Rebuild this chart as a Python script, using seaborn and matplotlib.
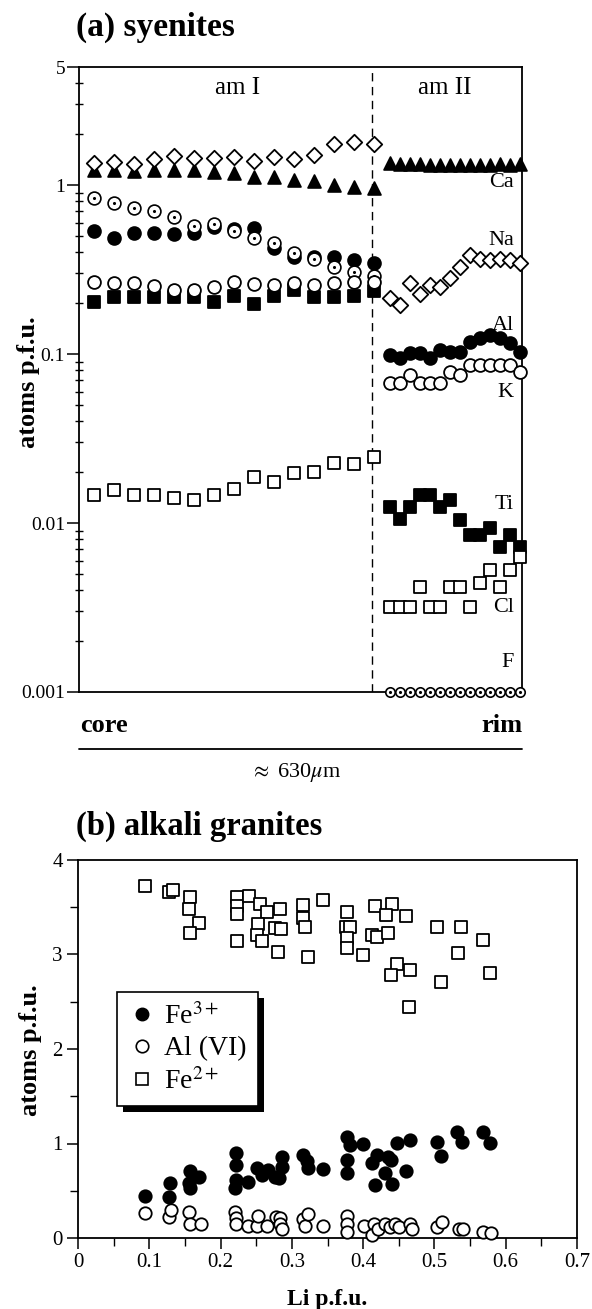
import numpy as np
import pandas as pd
import matplotlib
matplotlib.use("Agg")
import matplotlib.pyplot as plt
import seaborn as sns
from matplotlib.lines import Line2D
from matplotlib.patches import Rectangle
from matplotlib.transforms import IdentityTransform
from matplotlib.ticker import FixedLocator, NullFormatter

# ---------------- data: panel (a) syenites ----------------
pos_am1 = [1, 2, 3, 4, 5, 6, 7, 8, 9, 10, 11, 12, 13, 14, 15]
pos_am2 = [15.8, 16.3, 16.8, 17.3, 17.8, 18.3, 18.8, 19.3, 19.8, 20.3, 20.8, 21.3, 21.8, 22.3]

ca_am1 = [1.23, 1.23, 1.22, 1.23, 1.23, 1.23, 1.20, 1.18, 1.12, 1.12, 1.07, 1.06, 1.00, 0.98, 0.96]
na_am1 = [1.36, 1.37, 1.33, 1.42, 1.49, 1.44, 1.44, 1.47, 1.39, 1.47, 1.42, 1.51, 1.74, 1.79, 1.74]
al_am1 = [0.537, 0.484, 0.518, 0.518, 0.511, 0.518, 0.567, 0.547, 0.554, 0.422, 0.377, 0.373, 0.377, 0.360, 0.344]
k_am1 = [0.268, 0.262, 0.264, 0.252, 0.241, 0.241, 0.248, 0.266, 0.259, 0.256, 0.262, 0.256, 0.264, 0.268, 0.268]
ti_am1 = [0.204, 0.218, 0.218, 0.218, 0.218, 0.218, 0.204, 0.220, 0.197, 0.221, 0.239, 0.218, 0.218, 0.221, 0.236]
cl_am1 = [0.0147, 0.0157, 0.0147, 0.0147, 0.0140, 0.0137, 0.0147, 0.0160, 0.0188, 0.0176, 0.0199, 0.0201, 0.0226, 0.0223, 0.0247]
f_am1 = [0.834, 0.786, 0.734, 0.702, 0.644, 0.572, 0.585, 0.534, 0.484, 0.456, 0.394, 0.363, 0.329, 0.307, 0.290]

ca_am2 = [1.36, 1.34, 1.33, 1.34, 1.32, 1.31, 1.32, 1.31, 1.31, 1.32, 1.32, 1.33, 1.32, 1.34]
na_am2 = [0.214, 0.195, 0.262, 0.226, 0.256, 0.248, 0.281, 0.326, 0.385, 0.363, 0.360, 0.363, 0.360, 0.344]
al_am2 = [0.0986, 0.0943, 0.101, 0.101, 0.0943, 0.1056, 0.1032, 0.1032, 0.118, 0.124, 0.1295, 0.124, 0.1156, 0.1032]
k_am2 = [0.0671, 0.0671, 0.0751, 0.0671, 0.0671, 0.0671, 0.0786, 0.0751, 0.0861, 0.0861, 0.0861, 0.0861, 0.0861, 0.0786]
ti_am2 = [0.0125, 0.0105, 0.0125, 0.0147, 0.0147, 0.0125, 0.0136, 0.0104, 0.0085, 0.0085, 0.0093, 0.0072, 0.0085, 0.0072]
cl_am2 = [0.0032, 0.0032, 0.0032, 0.0042, 0.0032, 0.0032, 0.0042, 0.0042, 0.0032, 0.0044, 0.0053, 0.0042, 0.0053, 0.0063]
f_am2 = [0.001] * 14

element_labels = ["Ca", "Na", "Al", "K", "Ti", "Cl", "F"]
label_y = [1.03, 0.47, 0.148, 0.059, 0.0128, 0.00317, 0.0015]
zone_labels = ["am I", "am II"]
ytick_a = [0.001, 0.01, 0.1, 1, 5]
ytick_a_labels = ["0.001", "0.01", "0.1", "1", "5"]

# ---------------- data: panel (b) alkali granites ----------------
li_fe3 = [0.094, 0.129, 0.127, 0.157, 0.170, 0.156, 0.157, 0.222, 0.222, 0.222, 0.220, 0.239,
          0.251, 0.258, 0.267, 0.276, 0.286, 0.286, 0.282, 0.316, 0.321, 0.323, 0.343, 0.377,
          0.382, 0.400, 0.377, 0.378, 0.419, 0.412, 0.435, 0.439, 0.431, 0.417, 0.441, 0.448,
          0.466, 0.460, 0.504, 0.509, 0.532, 0.538, 0.568, 0.578]
fe3 = [0.444, 0.579, 0.431, 0.712, 0.649, 0.579, 0.526, 0.903, 0.772, 0.614, 0.526, 0.596,
       0.738, 0.667, 0.720, 0.649, 0.854, 0.754, 0.632, 0.878, 0.818, 0.738, 0.727, 1.072,
       0.984, 0.995, 0.825, 0.685, 0.878, 0.797, 0.860, 0.825, 0.685, 0.561, 0.571, 1.002,
       1.037, 0.712, 1.013, 0.868, 1.125, 1.019, 1.125, 1.002]

li_al = [0.094, 0.128, 0.130, 0.156, 0.157, 0.172, 0.220, 0.222, 0.222, 0.238, 0.251, 0.253,
         0.265, 0.278, 0.283, 0.283, 0.286, 0.315, 0.319, 0.323, 0.344, 0.378, 0.378, 0.377,
         0.401, 0.415, 0.413, 0.421, 0.431, 0.437, 0.444, 0.450, 0.466, 0.468, 0.504, 0.510,
         0.534, 0.540, 0.568, 0.579]
al_vi = [0.264, 0.224, 0.292, 0.272, 0.152, 0.152, 0.272, 0.212, 0.152, 0.132, 0.132, 0.232,
         0.132, 0.224, 0.212, 0.152, 0.092, 0.200, 0.132, 0.252, 0.132, 0.232, 0.152, 0.060,
         0.132, 0.152, 0.032, 0.092, 0.152, 0.112, 0.152, 0.112, 0.152, 0.092, 0.120, 0.172,
         0.092, 0.092, 0.060, 0.052]

li_fe2 = [0.094, 0.128, 0.133, 0.157, 0.156, 0.170, 0.157, 0.223, 0.223, 0.223, 0.223, 0.240,
          0.255, 0.265, 0.252, 0.251, 0.258, 0.281, 0.284, 0.277, 0.285, 0.315, 0.315, 0.318,
          0.322, 0.343, 0.378, 0.376, 0.381, 0.378, 0.378, 0.400, 0.417, 0.441, 0.432, 0.460,
          0.412, 0.420, 0.435, 0.447, 0.439, 0.466, 0.465, 0.504, 0.537, 0.568, 0.533, 0.509,
          0.578]
fe2 = [3.72, 3.66, 3.68, 3.605, 3.478, 3.337, 3.231, 3.612, 3.513, 3.429, 3.143, 3.62,
       3.534, 3.453, 3.323, 3.206, 3.146, 3.030, 3.478, 3.277, 3.267, 3.524, 3.383, 3.294,
       2.977, 3.577, 3.447, 3.294, 3.288, 3.171, 3.072, 2.995, 3.513, 3.534, 3.418, 3.411,
       3.206, 3.188, 3.231, 2.899, 2.780, 2.836, 2.448, 3.288, 3.288, 3.153, 3.013, 2.706,
       2.801]

xtick_b = [0, 0.1, 0.2, 0.3, 0.4, 0.5, 0.6, 0.7]
xtick_b_labels = ["0", "0.1", "0.2", "0.3", "0.4", "0.5", "0.6", "0.7"]
ytick_b = [0, 1, 2, 3, 4]
ytick_b_labels = ["0", "1", "2", "3", "4"]
legend_labels = [r"Fe$^{3+}$", "Al (VI)", r"Fe$^{2+}$"]

# ---------------- style ----------------
sns.set_theme(style="ticks", rc={"axes.edgecolor": "black", "axes.linewidth": 1.3,
                                 "xtick.color": "black", "ytick.color": "black",
                                 "text.color": "black", "axes.labelcolor": "black"})
plt.rcParams["font.family"] = ["Liberation Serif", "DejaVu Serif"]
plt.rcParams["mathtext.fontset"] = "stix"

W, H = 592, 1309
fig = plt.figure(figsize=(W / 100, H / 100), dpi=100)


def fx(px):
    return px / W


def fy(py):
    return 1 - py / H


ax1 = fig.add_axes([fx(79), fy(692), fx(522) - fx(79), fy(67) - fy(692)])
ax2 = fig.add_axes([fx(78), fy(1238), fx(577) - fx(78), fy(860) - fy(1238)])


def pts(ax, x, y, marker, face, size, lw=1.3, z=3):
    n0 = len(ax.collections)
    sns.scatterplot(x=x, y=y, ax=ax, marker=marker, s=size, color=face,
                    edgecolor="black", linewidth=lw, zorder=z, legend=False)
    for c in ax.collections[n0:]:
        c.set_clip_on(False)


# ---------- panel (a) ----------
ax1.set_yscale("log")
S = 85
for xs, (ca, na, al, k, ti, cl, f), fs in [
        (pos_am1, (ca_am1, na_am1, al_am1, k_am1, ti_am1, cl_am1, f_am1), S),
        (pos_am2, (ca_am2, na_am2, al_am2, k_am2, ti_am2, cl_am2, f_am2), 46)]:
    pts(ax1, xs, ca, "^", "black", S, z=3)
    pts(ax1, xs, na, "D", "white", 62, z=4)
    pts(ax1, xs, al, "o", "black", S, z=5)
    pts(ax1, xs, f, "o", "white", fs, lw=1.2, z=6)
    pts(ax1, xs, f, "o", "black", 5, lw=0, z=6.5)
    pts(ax1, xs, ti, "s", "black", S, z=7)
    pts(ax1, xs, k, "o", "white", S, z=8)
    pts(ax1, xs, cl, "s", "white", 75, z=9)

ax1.axvline(14.9, color="black", lw=1.0, dashes=(6, 4), zorder=2)
ax1.set_xlim(0.25, 22.4)
ax1.set_ylim(0.001, 5)
ax1.set_xticks([])
ax1.yaxis.set_major_locator(FixedLocator(ytick_a))
ax1.set_yticklabels(ytick_a_labels)
minors = [m * 10.0 ** e for e in range(-3, 0) for m in range(2, 10)] + [2, 3, 4]
ax1.yaxis.set_minor_locator(FixedLocator(minors))
ax1.yaxis.set_minor_formatter(NullFormatter())
ax1.tick_params(axis="y", which="major", direction="out", length=9, width=1.1, labelsize=14, pad=1)
ax1.tick_params(axis="y", which="minor", direction="inout", length=6, width=1.0)
ax1.set_xlabel("")
ax1.set_ylabel("")
fig.text(fx(29), fy(382), "atoms p.f.u.", rotation=90, ha="center", va="center",
         fontsize=19, fontweight="bold")

for lab, yv in zip(element_labels, label_y):
    ax1.text(22.0, yv, lab, ha="right", va="center", fontsize=16)
ax1.text(8.2, 3.75, zone_labels[0], ha="center", va="center", fontsize=18)
ax1.text(18.55, 3.75, zone_labels[1], ha="center", va="center", fontsize=18)

fig.text(fx(76), fy(27), "(a) syenites", ha="left", va="center", fontsize=24, fontweight="bold")
fig.text(fx(80), fy(726), "core", ha="left", va="center", fontsize=19, fontweight="bold")
fig.text(fx(522), fy(726), "rim", ha="right", va="center", fontsize=19, fontweight="bold")
fig.add_artist(Line2D([fx(79), fx(522)], [fy(749), fy(749)], color="black", lw=1.3))
fig.text(fx(296), fy(773), r"$\approx$ 630$\mu$m", ha="center", va="center", fontsize=16)

# ---------- panel (b) ----------
pts(ax2, li_fe3, fe3, "o", "black", 80, z=3)
pts(ax2, li_al, al_vi, "o", "white", 80, z=4)
pts(ax2, li_fe2, fe2, "s", "white", 70, z=5)
ax2.set_xlim(0, 0.7)
ax2.set_ylim(0, 4)
ax2.set_xticks(xtick_b, xtick_b_labels)
ax2.set_yticks(ytick_b, ytick_b_labels)
ax2.set_xticks([0.05, 0.15, 0.25, 0.35, 0.45, 0.55, 0.65], minor=True)
ax2.set_yticks([0.5, 1.5, 2.5, 3.5], minor=True)
ax2.tick_params(which="major", direction="out", length=8, width=1.1, labelsize=15, pad=3)
ax2.tick_params(which="minor", direction="out", length=6, width=1.0)
ax2.set_xlabel("Li p.f.u.", fontsize=17, fontweight="bold", labelpad=12)
ax2.set_ylabel("")
fig.text(fx(30), fy(1050), "atoms p.f.u.", rotation=90, ha="center", va="center",
         fontsize=19, fontweight="bold")

fig.text(fx(76), fy(826), "(b) alkali granites", ha="left", va="center", fontsize=23.5, fontweight="bold")

handles = [
    Line2D([], [], marker="o", ls="none", mfc="black", mec="black", ms=9),
    Line2D([], [], marker="o", ls="none", mfc="white", mec="black", ms=9, mew=1.2),
    Line2D([], [], marker="s", ls="none", mfc="white", mec="black", ms=9, mew=1.2),
]
leg = ax2.legend(handles, legend_labels, loc="upper left",
                 bbox_to_anchor=((117 - 78) / 499, (1238 - 992) / 378),
                 fontsize=20, frameon=True, fancybox=False, edgecolor="black",
                 framealpha=1, handletextpad=0.3, handlelength=1.0,
                 borderpad=0.4, labelspacing=0.22, borderaxespad=0)
leg.get_frame().set_linewidth(1.2)
leg.set_zorder(20)

fig.canvas.draw()
bb = leg.get_window_extent()
shadow = Rectangle((bb.x0 + 6, bb.y0 - 6), bb.width, bb.height, transform=IdentityTransform(),
                   facecolor="black", edgecolor="none", zorder=19, clip_on=False)
ax2.add_patch(shadow)

fig.savefig("out.png", dpi=100)
